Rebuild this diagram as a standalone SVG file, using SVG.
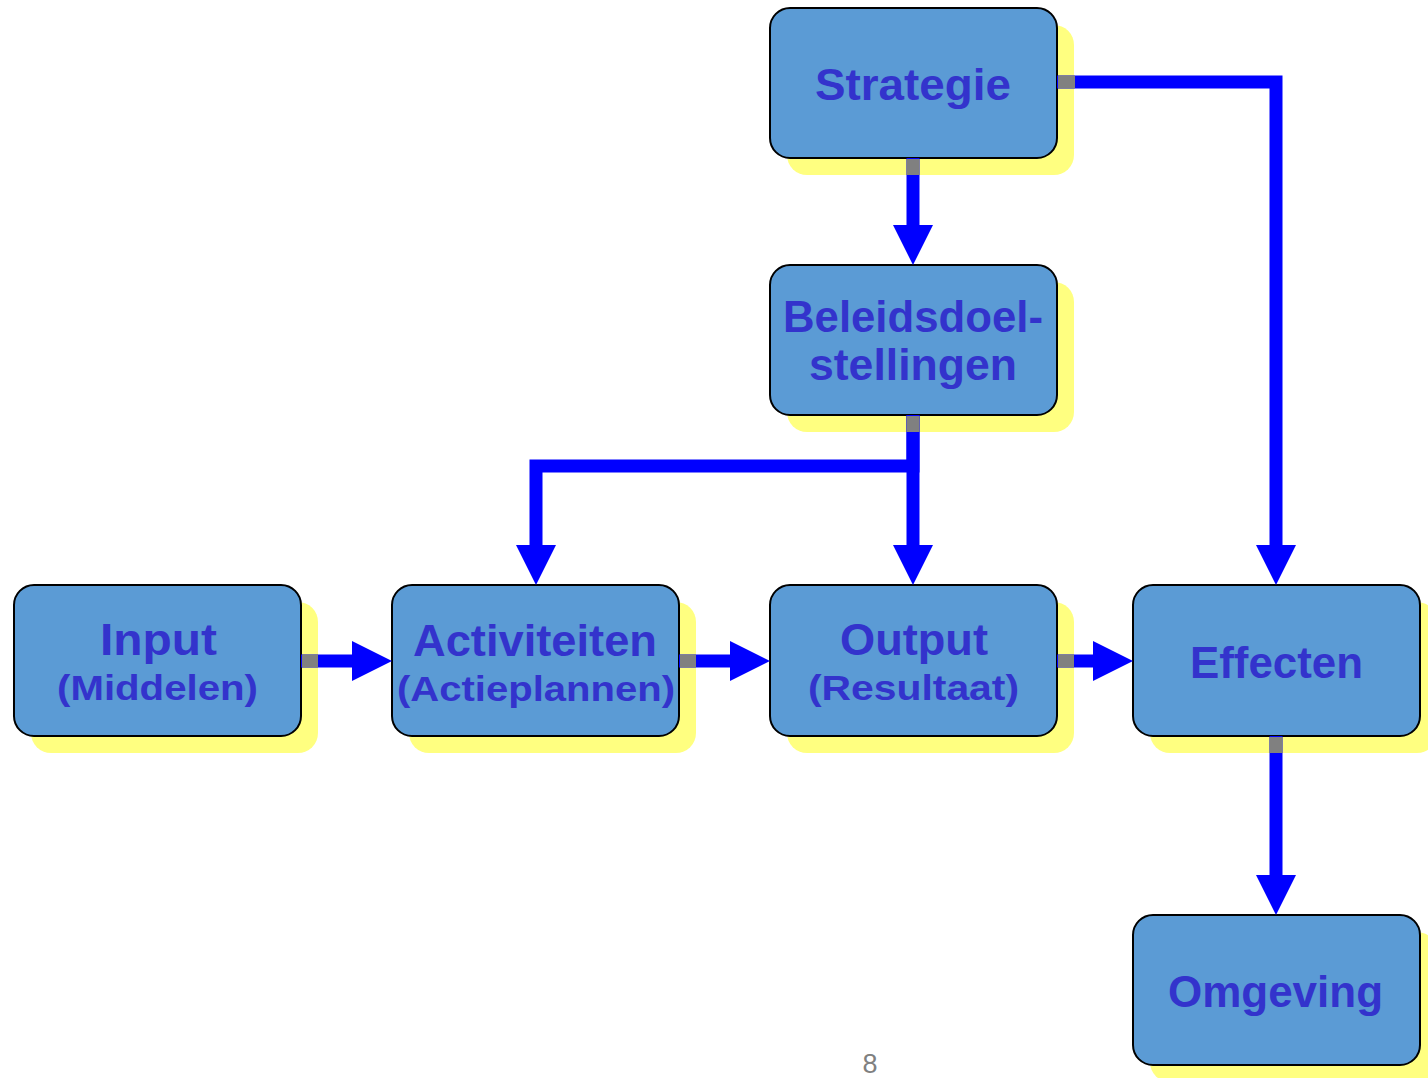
<svg xmlns="http://www.w3.org/2000/svg" width="1428" height="1078" viewBox="0 0 1428 1078">
  <style>
    .shadow { fill: #FFFF80; }
    .box { fill: #5B9BD5; stroke: #000000; stroke-width: 2; }
    .t { font-family: "Liberation Sans", Arial, sans-serif; font-weight: bold; fill: #3333CC; text-anchor: middle; }
    .main { font-size: 45px; }
    .sub { font-size: 35px; }
    .conn { fill: none; stroke: #0000FF; stroke-width: 13; stroke-linejoin: miter; }
    .stub { fill: none; stroke: #808080; stroke-width: 13; }
    .page { font-family: "Liberation Sans", Arial, sans-serif; font-size: 27px; fill: #808080; text-anchor: middle; }
  </style>
  <defs>
    <marker id="arrow" markerUnits="userSpaceOnUse" markerWidth="40" markerHeight="40" viewBox="0 0 40 40" refX="0" refY="20" orient="auto">
      <path d="M0,0 L40,20 L0,40 Z" fill="#0000FF"/>
    </marker>
  </defs>
  <rect width="1428" height="1078" fill="#FFFFFF"/>

  <g id="node-strategie">
    <rect class="shadow" x="787" y="25" width="287" height="150" rx="20"/>
    <rect class="box" x="770" y="8" width="287" height="150" rx="20"/>
    <text class="t main" x="913" y="100" textLength="196" lengthAdjust="spacingAndGlyphs">Strategie</text>
  </g>
  <g id="node-beleidsdoelstellingen">
    <rect class="shadow" x="787" y="282" width="287" height="150" rx="20"/>
    <rect class="box" x="770" y="265" width="287" height="150" rx="20"/>
    <text class="t main" x="913" y="332" textLength="260" lengthAdjust="spacingAndGlyphs">Beleidsdoel-</text>
    <text class="t main" x="913" y="380" textLength="208" lengthAdjust="spacingAndGlyphs">stellingen</text>
  </g>
  <g id="node-input">
    <rect class="shadow" x="31" y="602" width="287" height="151" rx="20"/>
    <rect class="box" x="14" y="585" width="287" height="151" rx="20"/>
    <text class="t main" x="158.5" y="655" textLength="117" lengthAdjust="spacingAndGlyphs">Input</text>
    <text class="t sub" x="157.5" y="700" textLength="201" lengthAdjust="spacingAndGlyphs">(Middelen)</text>
  </g>
  <g id="node-activiteiten">
    <rect class="shadow" x="409" y="602" width="287" height="151" rx="20"/>
    <rect class="box" x="392" y="585" width="287" height="151" rx="20"/>
    <text class="t main" x="535" y="656" textLength="244" lengthAdjust="spacingAndGlyphs">Activiteiten</text>
    <text class="t sub" x="536" y="701" textLength="278" lengthAdjust="spacingAndGlyphs">(Actieplannen)</text>
  </g>
  <g id="node-output">
    <rect class="shadow" x="787" y="602" width="287" height="151" rx="20"/>
    <rect class="box" x="770" y="585" width="287" height="151" rx="20"/>
    <text class="t main" x="914" y="655" textLength="148" lengthAdjust="spacingAndGlyphs">Output</text>
    <text class="t sub" x="913.5" y="700" textLength="211" lengthAdjust="spacingAndGlyphs">(Resultaat)</text>
  </g>
  <g id="node-effecten">
    <rect class="shadow" x="1150" y="602" width="287" height="151" rx="20"/>
    <rect class="box" x="1133" y="585" width="287" height="151" rx="20"/>
    <text class="t main" x="1276.5" y="678" textLength="173" lengthAdjust="spacingAndGlyphs">Effecten</text>
  </g>
  <g id="node-omgeving">
    <rect class="shadow" x="1150" y="932" width="287" height="150" rx="20"/>
    <rect class="box" x="1133" y="915" width="287" height="150" rx="20"/>
    <text class="t main" x="1275.5" y="1007" textLength="215" lengthAdjust="spacingAndGlyphs">Omgeving</text>
  </g>

  <g id="connectors">
    <path class="conn" d="M913,158 V225" marker-end="url(#arrow)"/>
    <path class="conn" d="M1057,82 H1276 V545" marker-end="url(#arrow)"/>
    <path class="conn" d="M913,415 V466 H536 V545" marker-end="url(#arrow)"/>
    <path class="conn" d="M913,415 V545" marker-end="url(#arrow)"/>
    <path class="conn" d="M301,661 H352" marker-end="url(#arrow)"/>
    <path class="conn" d="M679,661 H730" marker-end="url(#arrow)"/>
    <path class="conn" d="M1057,661 H1093" marker-end="url(#arrow)"/>
    <path class="conn" d="M1276,736 V875" marker-end="url(#arrow)"/>
    <path class="stub" d="M913,159 V175"/>
    <path class="stub" d="M1058,82 H1075"/>
    <path class="stub" d="M913,416 V432"/>
    <path class="stub" d="M1276,737 V753"/>
    <path class="stub" d="M302,661 H318"/>
    <path class="stub" d="M680,661 H696"/>
    <path class="stub" d="M1058,661 H1074"/>
  </g>

  <text class="page" x="870" y="1073">8</text>
</svg>
